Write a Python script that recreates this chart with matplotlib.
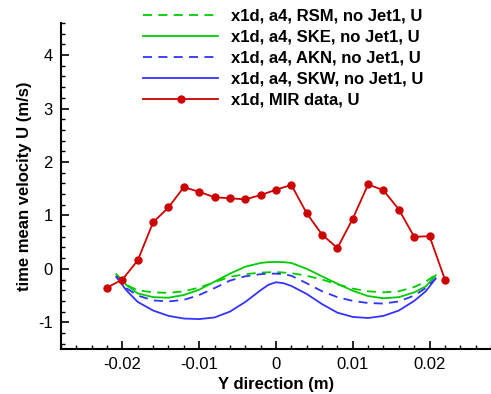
import numpy as np
import matplotlib
matplotlib.use("Agg")
import matplotlib.pyplot as plt
from matplotlib.ticker import MultipleLocator

plt.rcParams['font.family'] = ['Liberation Sans', 'DejaVu Sans']

# measured data (MIR)
y_mir = [-0.022, -0.020, -0.018, -0.016, -0.014, -0.012, -0.010, -0.008, -0.006,
         -0.004, -0.002, 0.0, 0.002, 0.004, 0.006, 0.008, 0.010, 0.012, 0.014,
         0.016, 0.018, 0.020, 0.022]
u_mir = [-0.35, -0.20, 0.16, 0.87, 1.15, 1.53, 1.44, 1.34, 1.32, 1.30, 1.38, 1.48,
         1.57, 1.04, 0.64, 0.39, 0.94, 1.58, 1.47, 1.11, 0.60, 0.61, -0.20]

# simulated profiles
y_sim = [-0.0208, -0.0195, -0.018, -0.016, -0.014, -0.012, -0.010, -0.008, -0.006,
         -0.004, -0.002, -0.001, 0.0, 0.001, 0.002, 0.004, 0.006, 0.008, 0.010, 0.012,
         0.014, 0.016, 0.018, 0.0195, 0.0208]
u_rsm = [-0.12, -0.30, -0.40, -0.44, -0.45, -0.42, -0.35, -0.25, -0.15, -0.10, -0.07,
         -0.065, -0.06, -0.07, -0.08, -0.13, -0.20, -0.29, -0.37, -0.42, -0.44, -0.42,
         -0.34, -0.24, -0.11]
u_ske = [-0.10, -0.30, -0.46, -0.53, -0.54, -0.49, -0.39, -0.24, -0.09, 0.04, 0.11,
         0.125, 0.13, 0.125, 0.11, 0.0, -0.14, -0.28, -0.41, -0.51, -0.55, -0.53,
         -0.44, -0.33, -0.12]
u_akn = [-0.14, -0.36, -0.50, -0.59, -0.61, -0.58, -0.49, -0.36, -0.22, -0.14, -0.10,
         -0.09, -0.09, -0.10, -0.13, -0.27, -0.42, -0.53, -0.60, -0.64, -0.65, -0.61,
         -0.50, -0.36, -0.18]
u_skw = [-0.15, -0.40, -0.62, -0.78, -0.88, -0.93, -0.94, -0.91, -0.80, -0.62, -0.40,
         -0.30, -0.25, -0.27, -0.32, -0.47, -0.66, -0.82, -0.90, -0.92, -0.88, -0.78,
         -0.60, -0.42, -0.18]

green = '#00cc00'
blue = '#3333ff'
red = '#cc0000'

fig = plt.figure(figsize=(4.91, 3.94), dpi=100)
ax = fig.add_axes([0.1242, 0.1142, 0.8758, 0.8274])

ax.plot(y_sim, u_rsm, color=green, lw=1.3, dashes=(5, 3.5), label='x1d, a4, RSM, no Jet1, U')
ax.plot(y_sim, u_ske, color=green, lw=1.3, label='x1d, a4, SKE, no Jet1, U')
ax.plot(y_sim, u_akn, color=blue, lw=1.3, dashes=(5, 3.5), label='x1d, a4, AKN, no Jet1, U')
ax.plot(y_sim, u_skw, color=blue, lw=1.3, label='x1d, a4, SKW, no Jet1, U')
ax.plot(y_mir, u_mir, color=red, lw=1.3, marker='o', ms=5, label='x1d, MIR data, U')

ax.set_xlim(-0.028, 0.028)
ax.set_ylim(-1.5, 4.6)
ax.xaxis.set_minor_locator(MultipleLocator(0.002))
ax.yaxis.set_minor_locator(MultipleLocator(0.2))
ax.set_xticks([-0.02, -0.01, 0, 0.01, 0.02])
ax.set_xticklabels(['-0.02', '-0.01', '0', '0.01', '0.02'])
ax.set_yticks([-1, 0, 1, 2, 3, 4])
ax.set_yticklabels(['-1', '0', '1', '2', '3', '4'])

ax.spines['top'].set_visible(False)
ax.spines['right'].set_visible(False)
ax.spines['left'].set_linewidth(1.5)
ax.spines['bottom'].set_linewidth(1.5)
ax.tick_params(which='major', direction='in', length=6, width=1.2, labelsize=12, pad=6)
ax.tick_params(which='minor', direction='in', length=3, width=1.0)

ax.set_xlabel('Y direction (m)', fontsize=12, fontweight='bold', labelpad=3)
ax.set_ylabel('time mean velocity U (m/s)', fontsize=12, fontweight='bold', labelpad=4)

ax.legend(loc='upper left', bbox_to_anchor=(0.157, 1.09), frameon=False,
          handlelength=4.5, handletextpad=0.78, labelspacing=0.36, numpoints=1,
          prop={'weight': 'bold', 'size': 12})

fig.savefig('out.png', dpi=100)
